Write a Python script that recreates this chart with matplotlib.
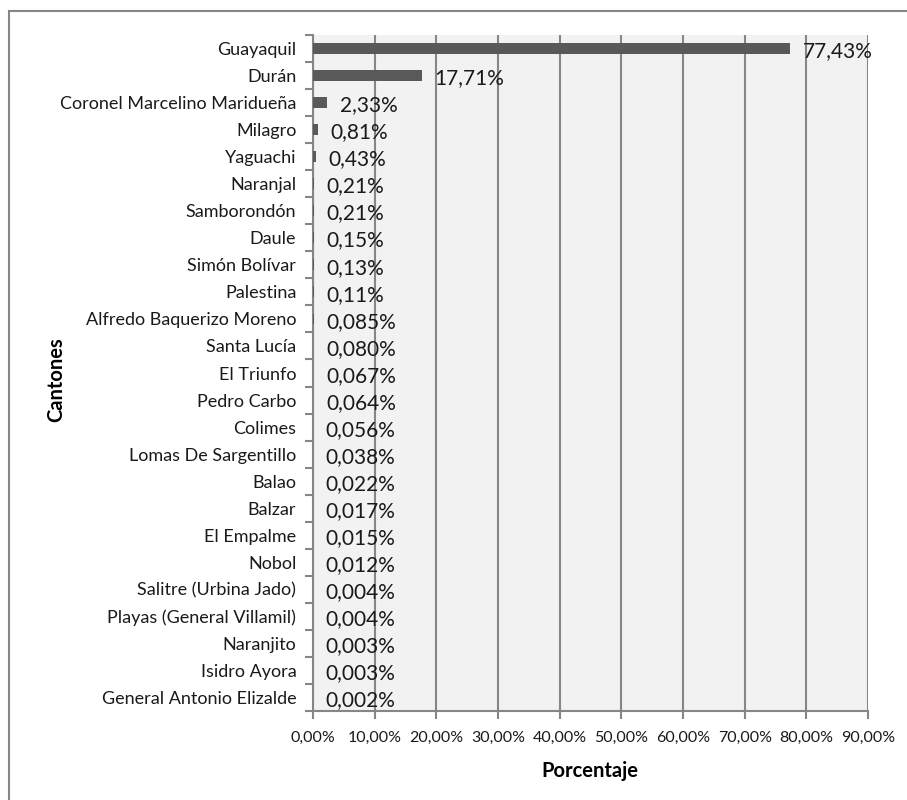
import matplotlib
matplotlib.use("Agg")
import matplotlib.pyplot as plt
from matplotlib.patches import Rectangle

plt.rcParams['font.family'] = ['Lato', 'DejaVu Sans']

cantones = ["Guayaquil", "Durán", "Coronel Marcelino Maridueña", "Milagro", "Yaguachi",
            "Naranjal", "Samborondón", "Daule", "Simón Bolívar", "Palestina",
            "Alfredo Baquerizo Moreno", "Santa Lucía", "El Triunfo", "Pedro Carbo", "Colimes",
            "Lomas De Sargentillo", "Balao", "Balzar", "El Empalme", "Nobol",
            "Salitre (Urbina Jado)", "Playas (General Villamil)", "Naranjito", "Isidro Ayora",
            "General Antonio Elizalde"]
porcentajes = [77.43, 17.71, 2.33, 0.81, 0.43, 0.21, 0.21, 0.15, 0.13, 0.11,
               0.085, 0.080, 0.067, 0.064, 0.056, 0.038, 0.022, 0.017, 0.015, 0.012,
               0.004, 0.004, 0.003, 0.003, 0.002]
etiquetas = ["77,43%", "17,71%", "2,33%", "0,81%", "0,43%", "0,21%", "0,21%", "0,15%",
             "0,13%", "0,11%", "0,085%", "0,080%", "0,067%", "0,064%", "0,056%", "0,038%",
             "0,022%", "0,017%", "0,015%", "0,012%", "0,004%", "0,004%", "0,003%",
             "0,003%", "0,002%"]
xticks = [0, 10, 20, 30, 40, 50, 60, 70, 80, 90]
xticklabels = ["0,00%", "10,00%", "20,00%", "30,00%", "40,00%", "50,00%",
               "60,00%", "70,00%", "80,00%", "90,00%"]

fig = plt.figure(figsize=(9.07, 8.0), dpi=100)
fig.patch.set_facecolor("white")
# outer chart border (extends beyond image at right/bottom)
fig.add_artist(Rectangle((9/907, -0.05), 1.1, 1 - 11/800 + 0.05, transform=fig.transFigure,
                         fill=False, edgecolor="#868686", linewidth=1.5))

ax = fig.add_axes([313/907, 1 - 711/800, (868 - 313)/907, (711 - 35)/800])
ax.set_facecolor("#F2F2F2")

n = len(cantones)
ypos = list(range(n))
ax.barh(ypos, porcentajes, height=0.4, color="#595959", zorder=3)
ax.set_ylim(n - 0.5, -0.5)
ax.set_xlim(0, 90)

for y, v, lab in zip(ypos, porcentajes, etiquetas):
    ax.annotate(lab, (v, y), xytext=(9, -2), textcoords="offset points",
                ha="left", va="center", fontsize=15, color="#1a1a1a", zorder=4)

ax.set_xticks(xticks)
ax.set_xticklabels(xticklabels, fontsize=11.5, color="#1a1a1a")
ax.set_yticks([i - 0.5 for i in range(n + 1)], minor=False)
ax.set_yticklabels([])
ax.set_yticks(ypos, minor=True)
ax.set_yticklabels(cantones, minor=True, fontsize=13, color="#1a1a1a")
ax.tick_params(axis="y", which="minor", length=0, pad=12)
ax.tick_params(axis="y", which="major", length=6, width=1.5, color="#868686")
ax.tick_params(axis="x", length=6, width=1.5, color="#868686", pad=8)

ax.grid(axis="x", color="#868686", linewidth=1.5, zorder=1)
ax.set_axisbelow(True)
for side in ["top", "right"]:
    ax.spines[side].set_visible(False)
for side in ["left", "bottom"]:
    ax.spines[side].set_color("#868686")
    ax.spines[side].set_linewidth(1.5)

fig.text(590/907, 1 - 771/800, "Porcentaje", fontsize=14.5, fontweight="bold",
         ha="center", va="center")
fig.text(56/907, 1 - 380/800, "Cantones", rotation=90, fontsize=14.5, fontweight="bold",
         ha="center", va="center")

fig.savefig("out.png", dpi=100)
